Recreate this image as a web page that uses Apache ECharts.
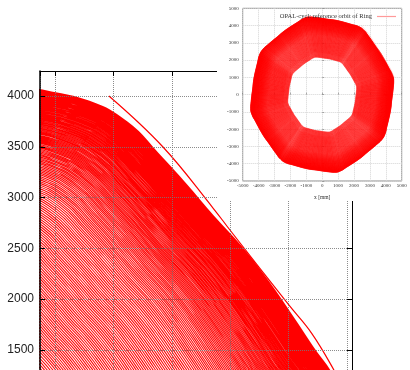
<!DOCTYPE html>
<html><head><meta charset="utf-8">
<script src="https://cdn.jsdelivr.net/npm/echarts@6/dist/echarts.min.js"></script>
<style>html,body{margin:0;padding:0;background:#fff}#c{width:410px;height:370px}</style>
</head><body><div id="c"></div>
<script>
// Orbit shape: relative radius of a turn at every 5 degrees (0..355), read from the outer orbit
const profileAngleStep = 5;
const profileShape = [
 0.9904,1.0047,1.0233,1.0222,1.0029,0.9913,0.9859,0.9834,0.9818,
 0.9904,1.0047,1.0233,1.0222,1.0029,0.9913,0.9859,0.9834,0.9818,
 0.9904,1.0047,1.0233,1.0222,1.0029,0.9913,0.9859,0.9834,0.9818,
 0.9904,1.0047,1.0233,1.0222,1.0029,0.9913,0.9859,0.9834,0.9818,
 0.9904,1.0047,1.0233,1.0222,1.0029,0.9913,0.9859,0.9834,0.9818,
 0.9904,1.0047,1.0233,1.0222,1.0029,0.9913,0.9859,0.9834,0.9818,
 0.9904,1.0047,1.0233,1.0222,1.0029,0.9913,0.9859,0.9834,0.9818,
 0.9904,1.0047,1.0233,1.0222,1.0029,0.9913,0.9859,0.9834,0.9818
];
// Mean radius of each turn [mm], inner (injection) to outer
const turnRadius = [
 2150,2170,2190,2210,2230,2250,2270,2290,2310,2330,2350,2370,2390,2410,2430,
 2448,2466,2484,2502,2520,2538,2556,2574,2592,2610,2628,2646,2664,2682,2700,
 2718,2736,2754,2772,2790,2808,2826,2844,2862,2880,2898,2916,2934,2952,2970,
 2988,3006,3024,3042,3060,3078,3096,3114,3132,3150,3168,3186,3204,3222,3240,
 3258,3276,3294,3312,3330,3348,3366,3384,3402,3420,3438,3456,
 3473,3490,3506,3523,3539,3555,3571,3586,3602,3617,3632,3647,3661,3676,3690,
 3704,3718,3731,3745,3758,3771,3784,3796,3809,3821,
 3833,3845,3857,3869,3880,3892,3903,3915,3926,3938,
 3949,3960,3971,3982,3993,4004,4015,4026,4036,4047,
 4057,4068,4078,4088,4099,4109,4119,4129,4139,4148,
 4158,4168,4177,4187,4196,4206,4215,4224,4233,4243,
 4252,4260,4269,4278,4287,4295,4304,4312,4321,4329,
 4337,4346,4354,4362,4370,4378,4385,4393,4401,4408,
 4416,4423,4431,4438,4445,4452,4459,4465
];
// Last (extracted) turn segment [mm]
const extractionX = [2462, 2925, 3355, 3498, 4002, 4198, 4388, 4525];
const extractionY = [4000, 3498, 2895, 2681, 1943, 1664, 1303, 1000];

const legendName = 'OPAL-cycl: reference orbit of Ring';

const orbit = [];
turnRadius.forEach(function (R) {
  for (let i = 0; i <= profileShape.length; i++) {
    const k = i % profileShape.length;
    const a = i * profileAngleStep * Math.PI / 180;
    const r = R * profileShape[k];
    orbit.push([r * Math.cos(a), r * Math.sin(a)]);
  }
  orbit.push(['-', '-']);
});
const extraction = extractionX.map(function (x, i) { return [x, extractionY[i]]; });

const chart = echarts.init(document.getElementById('c'), null, {renderer: 'canvas'});
const plain = function (v) { return String(v); };
const gridDot = {show: true, lineStyle: {color: 'rgba(120,120,120,0.85)', type: [1, 1], width: 1}};
const insetDot = {show: true, lineStyle: {color: '#d4d4d4', type: [1, 1], width: 1}};
const serif = 'Liberation Serif';
chart.setOption({
  animation: false,
  backgroundColor: '#ffffff',
  grid: [
    {left: 40, top: 71, width: 312, height: 299, containLabel: false},
    {left: 242.7, top: 8.3, width: 159, height: 172.7, show: true, borderColor: '#8a8a8a', borderWidth: 1, z: 11}
  ],
  xAxis: [
    {type: 'value', gridIndex: 0, min: 1872, max: 4543, splitNumber: 5, minInterval: 500, maxInterval: 500,
     axisLine: {show: false}, axisTick: {show: false}, axisLabel: {show: false},
     splitLine: gridDot, z: 3},
    {type: 'value', gridIndex: 1, min: -5000, max: 5000, interval: 1000,
     axisLine: {show: false}, axisTick: {show: true, inside: true, length: 2, lineStyle: {color: '#777', width: 0.6}},
     axisLabel: {show: true, fontSize: 5, fontFamily: serif, color: '#333', margin: 2, interval: 0, formatter: plain},
     name: 'x [mm]', nameLocation: 'middle', nameGap: 14, nameTextStyle: {fontSize: 5.5, fontFamily: serif, color: '#333'},
     splitLine: insetDot, z: 11},
    {type: 'value', gridIndex: 0, position: 'top', min: 1872, max: 4543, splitNumber: 5, minInterval: 500, maxInterval: 500,
     axisLine: {show: true, lineStyle: {color: '#000'}}, axisTick: {show: true, inside: true, length: 5, lineStyle: {color: '#000'}},
     axisLabel: {show: false}, splitLine: {show: false}, z: 3}
  ],
  yAxis: [
    {type: 'value', gridIndex: 0, min: 1303, max: 4246, splitNumber: 6, minInterval: 500, maxInterval: 500,
     axisLine: {show: true, lineStyle: {color: '#000', width: 1.5}},
     axisTick: {show: true, inside: true, length: 5, lineStyle: {color: '#000'}},
     axisLabel: {show: true, fontSize: 12, fontFamily: 'Liberation Sans', color: '#222', margin: 6,
                 showMaxLabel: false, showMinLabel: false, formatter: plain},
     splitLine: gridDot, z: 3},
    {type: 'value', gridIndex: 1, min: -5000, max: 5000, interval: 1000,
     axisLine: {show: false}, axisTick: {show: true, inside: true, length: 2, lineStyle: {color: '#777', width: 0.6}},
     axisLabel: {show: true, fontSize: 5, fontFamily: serif, color: '#333', margin: 4, formatter: plain},
     splitLine: insetDot, z: 11},
    {type: 'value', gridIndex: 0, position: 'right', min: 1303, max: 4246, splitNumber: 6, minInterval: 500, maxInterval: 500,
     axisLine: {show: true, lineStyle: {color: '#000'}}, axisTick: {show: true, inside: true, length: 5, lineStyle: {color: '#000'}},
     axisLabel: {show: false}, splitLine: {show: false}, z: 3}
  ],
  graphic: [
    {type: 'rect', z: 10, shape: {x: 217, y: 0, width: 193, height: 201}, style: {fill: '#ffffff'}, silent: true}
  ],
  legend: {
    show: true, data: [{name: legendName, icon: 'rect', itemStyle: {color: '#ff9a9a'}}],
    right: 14, top: 13, align: 'right', itemWidth: 19, itemHeight: 1.2, itemGap: 4,
    textStyle: {fontSize: 6.5, fontFamily: serif, color: '#333'},
    padding: 0, z: 13, selectedMode: false
  },
  series: [
    {name: 'main', type: 'line', xAxisIndex: 0, yAxisIndex: 0, data: orbit, symbol: 'none', smooth: 0.5,
     connectNulls: false, lineStyle: {color: '#ff0000', width: 1.05}, z: 2, silent: true},
    {name: 'main-extraction', type: 'line', xAxisIndex: 0, yAxisIndex: 0, data: extraction, symbol: 'none', smooth: 0.4,
     lineStyle: {color: '#ff0000', width: 1.2}, z: 2, silent: true},
    {name: legendName, type: 'line', xAxisIndex: 1, yAxisIndex: 1, data: orbit, symbol: 'none', smooth: 0.5,
     connectNulls: false, lineStyle: {color: '#ff0000', width: 0.5}, z: 12, silent: true},
    {name: 'inset-extraction', type: 'line', xAxisIndex: 1, yAxisIndex: 1, data: extraction, symbol: 'none', smooth: 0.4,
     lineStyle: {color: '#ff9a9a', width: 0.4}, z: 12, silent: true}
  ]
});
</script></body></html>
